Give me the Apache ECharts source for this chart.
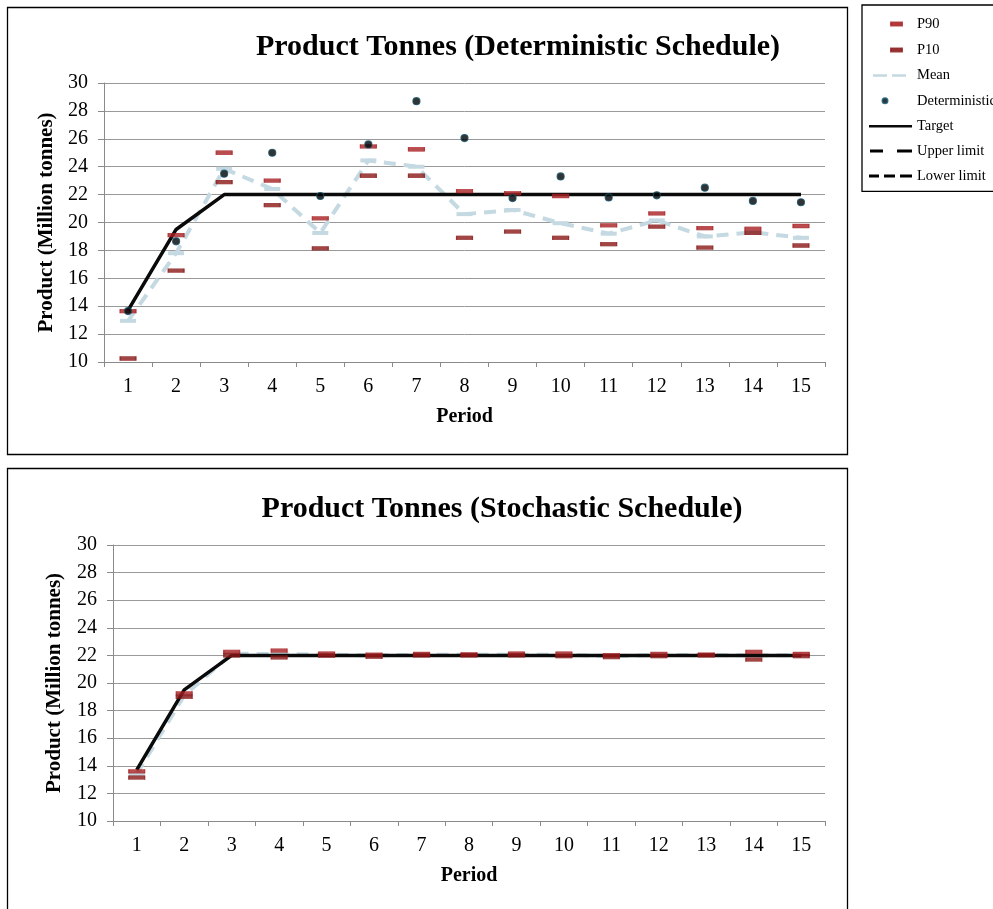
<!DOCTYPE html>
<html>
<head>
<meta charset="utf-8">
<script src="https://cdn.jsdelivr.net/npm/echarts@6/dist/echarts.min.js"></script>
<style>html,body{margin:0;padding:0;background:#fff;}#chart{width:993px;height:909px;}</style>
</head>
<body>
<div id="chart"></div>
<script>
var periods = ['1','2','3','4','5','6','7','8','9','10','11','12','13','14','15'];
var yTicks = [10,12,14,16,18,20,22,24,26,28,30];

// Deterministic schedule
var detP90 = [13.65, 19.1, 25.0, 23.0, 20.3, 25.45, 25.25, 22.25, 22.1, 21.9, 19.8, 20.65, 19.6, 19.55, 19.75];
var detP10 = [10.25, 16.55, 22.9, 21.25, 18.15, 23.35, 23.35, 18.9, 19.35, 18.9, 18.45, 19.7, 18.2, 19.25, 18.35];
var detMean = [12.95, 17.8, 23.85, 22.4, 19.25, 24.45, 24.0, 20.6, 20.9, 19.95, 19.2, 20.15, 19.0, 19.3, 18.9];
var detValues = [13.65, 18.65, 23.5, 25.0, 21.9, 25.6, 28.7, 26.05, 21.75, 23.3, 21.8, 21.95, 22.5, 21.55, 21.45];
var detTarget = [13.7, 19.5, 22, 22, 22, 22, 22, 22, 22, 22, 22, 22, 22, 22, 22];

// Stochastic schedule
var stoP90 = [13.6, 19.25, 22.25, 22.35, 22.12, 22.05, 22.1, 22.08, 22.12, 22.12, 22.02, 22.1, 22.06, 22.25, 22.1];
var stoP10 = [13.15, 19.0, 22.0, 21.85, 21.98, 21.9, 22.0, 22.0, 22.0, 21.95, 21.88, 21.95, 22.0, 21.7, 21.95];
var stoMean = [13.4, 19.1, 22.12, 22.1, 22.05, 22.0, 22.05, 22.05, 22.05, 22.05, 21.95, 22.03, 22.03, 22.0, 22.02];
var stoTarget = [13.7, 19.5, 22, 22, 22, 22, 22, 22, 22, 22, 22, 22, 22, 22, 22];

var SERIF = '"Liberation Serif", "Times New Roman", Times, serif';
var cP90 = '#a81f22', cP10 = '#8a1616', cMean = '#c4d9e1', cDet = '#000000', cTarget = '#0a0a0a';

function xAxisCfg(gi) {
  return {
    type: 'category', gridIndex: gi, data: periods, boundaryGap: true,
    name: 'Period', nameLocation: 'middle', nameGap: 45,
    nameTextStyle: { fontFamily: SERIF, fontWeight: 'bold', fontSize: 20, color: '#000' },
    axisLine: { lineStyle: { color: '#8a8a8a', width: 1 } },
    axisTick: { show: true, alignWithLabel: false, length: 5, lineStyle: { color: '#8a8a8a' } },
    axisLabel: { fontFamily: SERIF, fontSize: 20, color: '#000', margin: 15 },
    splitLine: { show: false }
  };
}
function yAxisCfg(gi, gap) {
  return {
    type: 'value', gridIndex: gi, min: yTicks[0], max: yTicks[yTicks.length - 1], interval: 2,
    name: 'Product (Million tonnes)', nameLocation: 'middle', nameGap: gap,
    nameTextStyle: { fontFamily: SERIF, fontWeight: 'bold', fontSize: 21, color: '#000' },
    axisLine: { show: true, lineStyle: { color: '#8a8a8a', width: 1 } },
    axisTick: { show: true, length: 6, lineStyle: { color: '#8a8a8a' } },
    axisLabel: { fontFamily: SERIF, fontSize: 20, color: '#000', margin: 16 },
    splitLine: { show: true, lineStyle: { color: '#999999', width: 1 } }
  };
}
function dashSeries(name, data, color, gi, z) {
  return { name: name, type: 'scatter', xAxisIndex: gi, yAxisIndex: gi, data: data,
    symbol: 'rect', symbolSize: [16, 4], z: z,
    itemStyle: { color: color, borderColor: color, borderWidth: 0.6 } };
}
function meanSeries(data, gi) {
  return { name: 'Mean', type: 'line', xAxisIndex: gi, yAxisIndex: gi, data: data,
    symbol: 'rect', symbolSize: [16, 4], showSymbol: true, z: 2,
    itemStyle: { color: cMean }, lineStyle: { color: cMean, width: 4, type: [12, 8] } };
}
function targetSeries(data, gi) {
  return { name: 'Target', type: 'line', xAxisIndex: gi, yAxisIndex: gi, data: data,
    symbol: 'none', z: 3, itemStyle: { color: cTarget },
    lineStyle: { color: cTarget, width: 3.5 } };
}

var option = {
  animation: false,
  backgroundColor: '#fff',
  graphic: [
    { type: 'rect', shape: { x: 7.5, y: 7.5, width: 840, height: 447 }, style: { fill: 'none', stroke: '#000', lineWidth: 1.3 }, z: -1 },
    { type: 'rect', shape: { x: 7.5, y: 468.5, width: 840, height: 470 }, style: { fill: 'none', stroke: '#000', lineWidth: 1.3 }, z: -1 }
  ],
  title: [
    { text: 'Product Tonnes (Deterministic Schedule)', left: 513, top: 42, textAlign: 'center', textVerticalAlign: 'middle',
      textStyle: { fontFamily: SERIF, fontWeight: 'bold', fontSize: 30, color: '#000' } },
    { text: 'Product Tonnes (Stochastic Schedule)', left: 497, top: 504, textAlign: 'center', textVerticalAlign: 'middle',
      textStyle: { fontFamily: SERIF, fontWeight: 'bold', fontSize: 30, color: '#000' } }
  ],
  legend: {
    orient: 'vertical', left: 862, top: 5,
    padding: [11, 12, 8, 5],
    itemWidth: 44, itemHeight: 14, itemGap: 9.9,
    borderColor: '#000', borderWidth: 1.3, backgroundColor: '#fff',
    selectedMode: false,
    textStyle: { fontFamily: SERIF, fontSize: 14.5, lineHeight: 14, color: '#000' },
    data: [
      { name: 'P90', icon: 'path://M0,0M44,14M23,5.5h11v3h-11z' },
      { name: 'P10', icon: 'path://M0,0M44,14M23,5.5h11v3h-11z' },
      { name: 'Mean', icon: 'path://M0,0M44,14M5,6h14v2.5h-14zM24,6h14v2.5h-14z' },
      { name: 'Deterministic', icon: 'path://M0,0M44,14M14.5,7a2.5,2.5 0 1,0 5,0a2.5,2.5 0 1,0 -5,0z' },
      { name: 'Target', icon: 'path://M0,0M44,14M1,6h43v2.5h-43z' },
      { name: 'Upper limit', icon: 'path://M0,0M44,14M2,5.5h13v3h-13zM29,5.5h15v3h-15z' },
      { name: 'Lower limit', icon: 'path://M0,0M44,14M1,5.5h10v3h-10zM16,5.5h11v3h-11zM32,5.5h12v3h-12z' }
    ]
  },
  grid: [
    { left: 104, top: 83, width: 721, height: 279 },
    { left: 113, top: 545, width: 712, height: 276 }
  ],
  xAxis: [xAxisCfg(0), xAxisCfg(1)],
  yAxis: [yAxisCfg(0, 40), yAxisCfg(1, 48)],
  series: [
    meanSeries(detMean, 0),
    targetSeries(detTarget, 0),
    dashSeries('P90', detP90, cP90, 0, 4),
    dashSeries('P10', detP10, cP10, 0, 4),
    { name: 'Deterministic', type: 'scatter', xAxisIndex: 0, yAxisIndex: 0, data: detValues,
      symbol: 'circle', symbolSize: 7, z: 5,
      itemStyle: { color: cDet, borderColor: '#0f4e63', borderWidth: 1.2 } },
    { name: 'Upper limit', type: 'line', xAxisIndex: 0, yAxisIndex: 0, data: [], symbol: 'none',
      itemStyle: { color: '#000' }, lineStyle: { color: '#000', width: 3, type: [14, 12] } },
    { name: 'Lower limit', type: 'line', xAxisIndex: 0, yAxisIndex: 0, data: [], symbol: 'none',
      itemStyle: { color: '#000' }, lineStyle: { color: '#000', width: 3, type: [10, 5] } },
    meanSeries(stoMean, 1),
    targetSeries(stoTarget, 1),
    dashSeries('P90', stoP90, cP90, 1, 4),
    dashSeries('P10', stoP10, cP10, 1, 4)
  ]
};

var chart = echarts.init(document.getElementById('chart'), null, { renderer: 'canvas' });
chart.setOption(option);
</script>
</body>
</html>
